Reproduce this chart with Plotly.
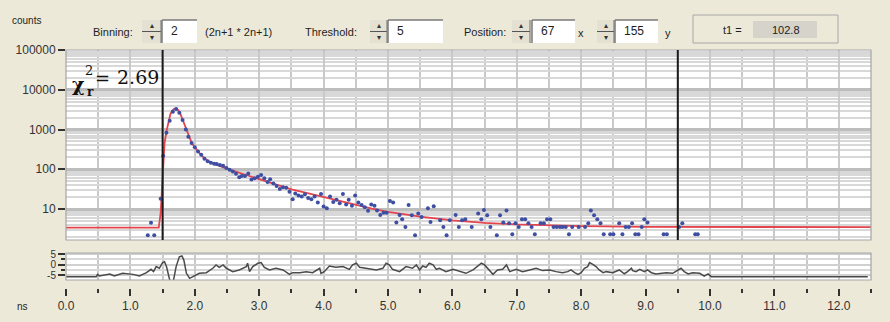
import plotly.graph_objects as go

# ---------------- data ----------------
decay_time = [1.27, 1.32, 1.37, 1.47, 1.51, 1.56, 1.61, 1.66, 1.71, 1.76, 1.81, 1.86, 1.90, 1.95,
              2.00, 2.05, 2.10, 2.15, 2.20, 2.25, 2.30, 2.34, 2.39, 2.44, 2.49, 2.54, 2.59, 2.64,
              2.69, 2.73, 2.78, 2.83, 2.88, 2.93, 2.98, 3.03, 3.08, 3.13, 3.17, 3.22, 3.27, 3.32,
              3.37, 3.42, 3.47, 3.52, 3.56, 3.61, 3.66, 3.71, 3.76, 3.81, 3.86, 3.91, 3.96, 4.00,
              4.05, 4.10, 4.15, 4.20, 4.25, 4.30, 4.35, 4.39, 4.44, 4.49, 4.54, 4.59, 4.64, 4.69,
              4.74, 4.79, 4.83, 4.88, 4.93, 4.98, 5.03, 5.08, 5.13, 5.18, 5.22, 5.27, 5.32, 5.37,
              5.42, 5.47, 5.52, 5.62, 5.66, 5.71, 5.81, 5.86, 5.91, 5.96, 6.05, 6.10, 6.15, 6.20,
              6.30, 6.40, 6.45, 6.49, 6.54, 6.59, 6.69, 6.74, 6.79, 6.84, 6.88, 6.93, 6.98, 7.03,
              7.08, 7.13, 7.18, 7.23, 7.28, 7.37, 7.42, 7.47, 7.52, 7.57, 7.62, 7.67, 7.71, 7.76,
              7.81, 7.86, 7.96, 8.06, 8.11, 8.15, 8.20, 8.25, 8.30, 8.35, 8.45, 8.50, 8.59, 8.64,
              8.69, 8.74, 8.79, 8.84, 8.89, 8.94, 8.98, 9.03, 9.28, 9.33, 9.52, 9.57, 9.77, 9.81]
decay_counts = [2.2, 4.5, 2.2, 18, 220, 830, 1660, 2800, 3300, 2650, 1740, 1000, 660, 460,
                360, 280, 230, 185, 158, 145, 138, 136, 128, 122, 108, 97, 88, 77,
                63, 68, 68, 78, 55, 59, 65, 72, 59, 48, 56, 44, 38, 32,
                35, 34, 27, 17.5, 24.5, 22, 20.5, 23.5, 19, 17.5, 20.5, 14.5, 24, 11.5,
                10.5, 20.5, 15, 17, 14, 24, 13, 17, 12, 22, 14.5, 12.6, 11, 9,
                13, 12, 9.2, 7.1, 8.1, 8, 16, 14.5, 4.6, 7.1, 5.5, 3.5, 12.6, 7,
                2.2, 7.7, 6.3, 10.5, 4.7, 11.8, 5.2, 3.5, 2.2, 5.2, 7.1, 3.5, 5.2, 5.5,
                3.5, 7.7, 5.5, 9.5, 7, 3.5, 2.2, 7, 4.6, 9.2, 4.4, 2.3, 4.4, 3.5,
                5.5, 5.5, 4.4, 3.5, 2.3, 4.4, 4.4, 5.5, 5.5, 3.5, 3.5, 3.5, 3.5, 3.5,
                2.3, 3.5, 3.5, 3.5, 4.4, 9.2, 7, 5.5, 4.4, 2.3, 2.3, 2.3, 4.4, 2.3,
                3.5, 3.5, 4.4, 2.3, 2.3, 3.5, 5.5, 4.6, 2.3, 2.3, 3.5, 4.4, 2.3, 2.3]

fit_time = [0.0, 1.44, 1.47, 1.49, 1.51, 1.53, 1.56, 1.59, 1.62, 1.65, 1.68, 1.71, 1.74, 1.77,
            1.80, 1.83, 1.86, 1.90, 1.95, 2.00, 2.05, 2.10, 2.15, 2.20, 2.30, 2.40, 2.50, 2.75,
            3.00, 3.25, 3.50, 3.75, 4.00, 4.25, 4.50, 4.75, 5.00, 5.50, 6.00, 6.50, 7.00, 7.50,
            8.00, 9.00, 10.0, 12.5]
fit_counts = [3.4, 3.4, 8, 40, 180, 450, 900, 1600, 2400, 3000, 3300, 3350, 3100, 2600,
              1950, 1400, 1000, 690, 470, 355, 280, 228, 190, 163, 136, 118, 104, 76,
              56, 41, 31, 25, 20, 15.5, 12.5, 10.2, 8.5, 6.4, 5.2, 4.5, 4.1, 3.85,
              3.7, 3.55, 3.5, 3.5]

res_time = [0.00, 0.47, 0.49, 0.52, 0.68, 0.75, 0.88, 1.04, 1.14, 1.25, 1.32, 1.36, 1.40, 1.45,
            1.50, 1.53, 1.56, 1.58, 1.61, 1.63, 1.66, 1.71, 1.76, 1.80, 1.83, 1.87, 1.92, 1.97,
            2.07, 2.18, 2.28, 2.33, 2.38, 2.44, 2.49, 2.59, 2.69, 2.80, 2.82, 2.85, 2.90, 2.98,
            3.03, 3.08, 3.16, 3.26, 3.37, 3.47, 3.52, 3.63, 3.73, 3.83, 3.94, 3.96, 4.01, 4.09,
            4.19, 4.30, 4.40, 4.45, 4.51, 4.56, 4.66, 4.82, 4.92, 4.97, 5.02, 5.07, 5.18, 5.28,
            5.38, 5.44, 5.49, 5.54, 5.59, 5.64, 5.70, 5.75, 5.80, 5.90, 6.01, 6.11, 6.21, 6.32,
            6.39, 6.45, 6.50, 6.55, 6.63, 6.70, 6.78, 6.84, 6.89, 6.99, 7.09, 7.20, 7.30, 7.40,
            7.51, 7.61, 7.71, 7.79, 7.84, 7.90, 7.95, 8.00, 8.05, 8.10, 8.13, 8.18, 8.23, 8.28,
            8.34, 8.39, 8.49, 8.59, 8.67, 8.72, 8.78, 8.80, 8.85, 8.91, 8.98, 9.03, 9.09, 9.16,
            9.22, 9.32, 9.42, 9.50, 9.55, 9.60, 9.66, 9.73, 9.84, 9.91, 9.97, 10.02, 12.45]
res_value = [-5.8, -5.8, -4.7, -5.5, -4.5, -5.5, -4.2, -4.7, -5.5, -3.9, -2.3, -3.4, -1.0, -1.8,
             0.9, 1.35, -1.0, -5.8, -9.0, -9.8, -9.0, -1.0, 3.7, 4.05, 2.1, -4.2, -6.6, -5.8,
             -4.2, -3.9, -1.8, -0.2, -1.35, -0.2, -1.8, -3.4, -2.6, -1.0, 0.6, -3.4, -1.0, 0.6,
             0.9, -1.35, -2.6, -1.8, -2.6, -4.7, -3.9, -3.9, -3.4, -3.9, -1.8, -4.2, -3.4, -0.7,
             -1.35, -1.0, -2.3, -0.2, 0.6, -1.35, -1.8, -2.6, -1.8, 0.6, -0.2, -2.3, -3.4, -1.0,
             -1.8, -0.2, -2.6, -0.7, -1.35, 0.6, -0.2, -2.3, -1.8, -3.4, -2.3, -3.4, -4.2, -2.6,
             -1.0, 0.6, -0.2, -1.8, -4.7, -2.6, -2.3, -0.2, -3.4, -2.3, -3.4, -2.6, -1.8, -2.9,
             -2.6, -3.4, -3.9, -3.4, -2.6, -3.9, -4.7, -3.9, -1.8, -1.0, 0.9, 0.1, -1.0, -2.6,
             -3.9, -3.4, -3.9, -2.6, -4.4, -3.4, -1.8, -2.9, -3.4, -2.3, -3.4, -2.6, -3.9, -4.5,
             -4.2, -3.9, -4.2, -2.6, -1.8, -3.4, -4.5, -3.9, -4.2, -5.5, -4.5, -5.8, -5.8]

x_tick_vals = [0, 1, 2, 3, 4, 5, 6, 7, 8, 9, 10, 11, 12]
y_tick_vals = [10, 100, 1000, 10000, 100000]
y_tick_text = ["10", "100", "1000", "10000", "100000"]
res_tick_vals = [5, 0, -5]
res_tick_text = ["5", "0", "-5"]
cursor_times = [1.5, 9.5]
chi_value = "2.69"
ui = dict(binning="2", threshold="5", pos_x="67", pos_y="155", t1="102.8")

# ---------------- geometry helpers ----------------
W, H = 890, 322
ML, MR, MT, MB = 66, 19, 50, 34
PW = W - ML - MR
PH = H - MT - MB


def px(x):
    return (x - ML) / PW


def py(y):
    return (H - MB - y) / PH


UIFONT = "Liberation Sans"
TXT = "#1e1e1e"
BG = "#ece9d8"
GRID = "#c9c9c9"

fig = go.Figure()

fig.add_trace(go.Scatter(x=fit_time, y=fit_counts, mode="lines",
                         line=dict(color="#e5444d", width=1.8), xaxis="x", yaxis="y",
                         showlegend=False, hoverinfo="skip"))
fig.add_trace(go.Scatter(x=decay_time, y=decay_counts, mode="markers",
                         marker=dict(color="#3d4ea3", size=4, line=dict(width=0)),
                         xaxis="x", yaxis="y", showlegend=False))
fig.add_trace(go.Scatter(x=res_time, y=res_value, mode="lines",
                         line=dict(color="#4a4a4a", width=1.5), xaxis="x", yaxis="y2",
                         showlegend=False))

minor_log = [m * 10 ** k for k in range(0, 5) for m in range(2, 10)]

fig.update_layout(
    width=W, height=H,
    margin=dict(l=ML, r=MR, t=MT, b=MB, pad=0, autoexpand=False),
    paper_bgcolor=BG, plot_bgcolor="#ffffff",
    font=dict(family=UIFONT, size=12, color=TXT),
    xaxis=dict(range=[0, 12.5], domain=[0, 1], anchor="free", position=0, automargin=False,
               tickmode="array", tickvals=x_tick_vals, tickformat=".1f",
               ticks="outside", ticklen=7, tickwidth=2, tickcolor="#333",
               tickfont=dict(size=12, color="#333"),
               showgrid=True, gridcolor=GRID, gridwidth=1.5,
               minor=dict(tickmode="linear", tick0=0, dtick=0.5, ticks="outside", ticklen=4,
                          tickwidth=2, tickcolor="#333", showgrid=True, gridcolor=GRID,
                          gridwidth=1.5),
               showline=False, zeroline=False),
    yaxis=dict(type="log", domain=[py(240), 1], range=[0.22, 5], anchor="x", automargin=False,
               tickmode="array", tickvals=y_tick_vals, ticktext=y_tick_text,
               ticks="outside", ticklen=7, tickwidth=1.5, tickcolor="#333",
               tickfont=dict(size=12, color="#333"),
               showgrid=True, gridcolor="#bdbdbd", gridwidth=2.5,
               minor=dict(tickmode="array", tickvals=minor_log, ticks="", showgrid=True,
                          gridcolor="#d8d8d8", gridwidth=1.5),
               showline=False, zeroline=False),
    yaxis2=dict(domain=[py(280), py(253)], range=[-7.38, 5.48], anchor="x", automargin=False,
                tickmode="array", tickvals=res_tick_vals, ticktext=res_tick_text,
                ticks="outside", ticklen=7, tickwidth=1.5, tickcolor="#333",
                tickfont=dict(size=10, color="#333"),
                showgrid=True, gridcolor="#d0d0d0", gridwidth=1.5,
                minor=dict(tickmode="linear", tick0=0, dtick=2.5, ticks="outside", ticklen=4,
                           tickwidth=1.5, tickcolor="#333", showgrid=True,
                           gridcolor="#d8d8d8", gridwidth=1.5),
                showline=False, zeroline=False),
)

shapes = []
# panel frames
for yr in ["y domain", "y2 domain"]:
    shapes.append(dict(type="rect", xref="x domain", yref=yr, x0=0, x1=1, y0=0, y1=1,
                       line=dict(color="#a5a5a5", width=1.2), layer="above"))
# cursor lines
for t in cursor_times:
    shapes.append(dict(type="line", xref="x", yref="y domain", x0=t, x1=t, y0=0, y1=1,
                       line=dict(color="#1a1a1a", width=2), layer="above"))


def rect(x0, y0, x1, y1, fill, line=None, lw=1):
    shapes.append(dict(type="rect", xref="paper", yref="paper",
                       x0=px(x0), x1=px(x1), y0=py(y1), y1=py(y0),
                       fillcolor=fill, line=dict(color=line or fill, width=lw if line else 0),
                       layer="above"))


def seg(x0, y0, x1, y1, color, lw=1):
    shapes.append(dict(type="line", xref="paper", yref="paper",
                       x0=px(x0), x1=px(x1), y0=py(y0), y1=py(y1),
                       line=dict(color=color, width=lw), layer="above"))


annotations = []


def text(x, y, s, size=11, anchor="left", family=UIFONT, color=TXT):
    annotations.append(dict(xref="paper", yref="paper", x=px(x), y=py(y), text=s,
                            showarrow=False, xanchor=anchor, yanchor="middle",
                            font=dict(family=family, size=size, color=color)))


def spinner(x0, x1, y0=20, y1=43):
    rect(x0, y0, x1, y1, "#e4e1d2")
    seg(x0, (y0 + y1) / 2, x1, (y0 + y1) / 2, "#555", 1)
    seg(x1, y0, x1, y1, "#6f6f6f", 1)
    text((x0 + x1) / 2, y0 + 5.5, "▴", size=8, anchor="center", family="DejaVu Sans", color="#333")
    text((x0 + x1) / 2, y1 - 5.5, "▾", size=8, anchor="center", family="DejaVu Sans", color="#333")


def textbox(x0, x1, value, y0=20, y1=43):
    rect(x0, y0, x1, y1, "#ffffff")
    seg(x0, y0, x1, y0, "#7a7a7a", 1.5)
    seg(x0, y0, x0, y1, "#7a7a7a", 1.5)
    text(x0 + 7, 31, value, size=12)


text(10, 21, "counts", size=10)
text(91, 32, "Binning:")
spinner(142, 161)
textbox(162, 197, ui["binning"])
text(203, 32, "(2n+1 * 2n+1)")
text(303, 32, "Threshold:")
spinner(370, 387)
textbox(388, 443, ui["threshold"])
text(462, 32, "Position:")
spinner(512, 530)
textbox(532, 575, ui["pos_x"])
text(581, 33, "x", anchor="center")
spinner(597, 614)
textbox(615, 658, ui["pos_y"])
text(668, 33, "y", anchor="center")
rect(693, 15, 838, 43, "rgba(0,0,0,0)", "#a8a8a8", 1)
rect(753, 21, 817, 38, "#d6d3ca")
text(732, 30, "t1 =", anchor="center")
text(786, 30, ui["t1"], anchor="center")
text(15, 306, "ns", size=10)

# reduced chi-square label
SERIF = "DejaVu Serif"
text(78, 84, "<b>χ</b>", size=19, anchor="center", family=SERIF, color="#111")
text(89, 70, "2", size=13, anchor="center", family=SERIF, color="#111")
text(90, 92, "<b>r</b>", size=12, anchor="center", family=SERIF, color="#111")
text(102, 78, "=", size=18, anchor="center", family=SERIF, color="#111")
text(138, 77, chi_value, size=19, anchor="center", family=SERIF, color="#111")

fig.update_layout(shapes=shapes, annotations=annotations)
fig.write_html("out.html", config={"displayModeBar": False},
               post_script="document.body.style.margin='0';document.body.style.overflow='hidden';")
